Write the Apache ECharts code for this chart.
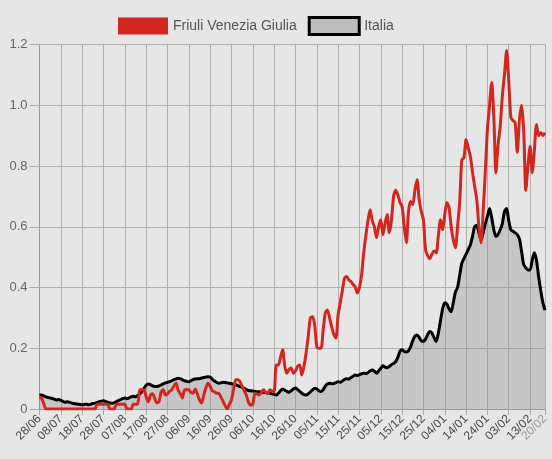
<!DOCTYPE html>
<html>
<head>
<meta charset="utf-8">
<script src="https://cdn.jsdelivr.net/npm/echarts@6/dist/echarts.min.js"></script>
<style>
html,body{margin:0;padding:0;background:#e6e6e6;}
#chart{width:552px;height:459px;}
</style>
</head>
<body>
<div id="chart"></div>
<script>
const startDate = [2020, 5, 28];
const dayCount = 238;
const tickLabels = ['28/06','08/07','18/07','28/07','07/08','17/08','27/08','06/09','16/09','26/09','06/10','16/10','26/10','05/11','15/11','25/11','05/12','15/12','25/12','04/01','14/01','24/01','03/02','13/02','20/02'];
const yTicks = [0, 0.2, 0.4, 0.6, 0.8, 1.0, 1.2];

const italia = [
0.045,0.046,0.043,0.040,0.038,0.036,0.035,0.032,0.030,0.031,
0.028,0.025,0.022,0.024,0.022,0.020,0.018,0.017,0.016,0.015,
0.014,0.015,0.016,0.014,0.016,0.018,0.019,0.021,0.024,0.026,
0.027,0.025,0.022,0.020,0.019,0.020,0.024,0.028,0.031,0.034,
0.036,0.034,0.037,0.040,0.042,0.040,0.044,0.050,0.057,0.068,
0.078,0.082,0.080,0.076,0.074,0.074,0.076,0.079,0.083,0.086,
0.088,0.090,0.093,0.097,0.099,0.101,0.100,0.096,0.093,0.091,
0.090,0.093,0.097,0.099,0.100,0.100,0.102,0.104,0.105,0.106,
0.105,0.098,0.092,0.088,0.085,0.086,0.088,0.087,0.086,0.085,
0.083,0.082,0.080,0.077,0.074,0.071,0.068,0.064,0.061,0.060,
0.059,0.058,0.057,0.057,0.056,0.055,0.054,0.053,0.052,0.050,
0.048,0.046,0.052,0.060,0.066,0.062,0.058,0.055,0.060,0.066,
0.069,0.064,0.058,0.052,0.047,0.046,0.050,0.056,0.063,0.068,
0.066,0.060,0.057,0.064,0.075,0.082,0.085,0.083,0.084,0.087,
0.090,0.088,0.092,0.097,0.100,0.098,0.103,0.108,0.112,0.110,
0.113,0.116,0.118,0.116,0.120,0.125,0.128,0.124,0.118,0.125,
0.134,0.142,0.138,0.136,0.140,0.146,0.150,0.156,0.170,0.190,
0.195,0.190,0.188,0.192,0.205,0.225,0.240,0.244,0.236,0.225,
0.222,0.230,0.245,0.255,0.250,0.235,0.222,0.250,0.290,0.330,
0.350,0.345,0.330,0.320,0.350,0.385,0.400,0.440,0.480,0.495,
0.510,0.525,0.540,0.568,0.600,0.605,0.580,0.557,0.580,0.610,
0.634,0.660,0.630,0.590,0.568,0.575,0.590,0.610,0.650,0.660,
0.620,0.590,0.585,0.580,0.574,0.560,0.520,0.475,0.465,0.458,
0.458,0.490,0.514,0.490,0.436,0.390,0.350,0.325
];

const friuli = [
0.040,0.035,0.018,0,0,0,0,0,0,0,
0,0,0,0,0,0,0,0,0,0,
0,0,0,0,0,0,0,0.016,0.016,0.016,
0.016,0.016,0.016,0,0,0,0.016,0.016,0.016,0.016,
0.016,0,0,0,0.016,0.016,0.016,0.063,0.063,0.063,
0.040,0.024,0.045,0.050,0.035,0.020,0.024,0.055,0.063,0.046,
0.050,0.058,0.063,0.075,0.085,0.062,0.050,0.036,0.063,0.063,
0.063,0.055,0.052,0.066,0.050,0.030,0.020,0.045,0.069,0.085,
0.075,0.060,0.057,0.052,0.052,0.040,0.026,0.012,0,0.015,
0.030,0.065,0.096,0.096,0.090,0.074,0.060,0.045,0.022,0.013,
0.015,0.052,0.050,0.046,0.055,0.063,0.055,0.052,0.063,0.060,
0.057,0.145,0.145,0.170,0.195,0.140,0.118,0.130,0.135,0.118,
0.125,0.140,0.145,0.112,0.140,0.185,0.240,0.300,0.304,0.277,
0.205,0.200,0.200,0.260,0.316,0.326,0.300,0.270,0.245,0.234,
0.310,0.350,0.390,0.430,0.436,0.425,0.420,0.410,0.403,0.382,
0.400,0.440,0.514,0.570,0.620,0.656,0.620,0.600,0.564,0.600,
0.623,0.574,0.610,0.640,0.580,0.620,0.700,0.720,0.705,0.680,
0.667,0.600,0.547,0.650,0.683,0.673,0.720,0.755,0.690,0.650,
0.623,0.524,0.505,0.495,0.510,0.520,0.514,0.570,0.623,0.590,
0.640,0.680,0.663,0.600,0.557,0.531,0.600,0.680,0.820,0.827,
0.887,0.860,0.832,0.780,0.733,0.690,0.600,0.547,0.650,0.780,
0.920,1.000,1.075,0.964,0.778,0.870,0.930,1.030,1.100,1.180,
1.080,0.960,0.950,0.943,0.845,0.950,1.000,0.920,0.720,0.800,
0.865,0.778,0.850,0.937,0.900,0.910,0.900,0.910
];

const dates = [];
for (let i = 0; i < dayCount; i++) {
  const d = new Date(Date.UTC(startDate[0], startDate[1], startDate[2] + i));
  const dd = String(d.getUTCDate()).padStart(2, '0');
  const mm = String(d.getUTCMonth() + 1).padStart(2, '0');
  dates.push(dd + '/' + mm);
}
const lastLabel = tickLabels[tickLabels.length - 1];
const isTick = (idx) => tickLabels.indexOf(dates[idx]) >= 0;
const isMainTick = (idx) => isTick(idx) && dates[idx] !== lastLabel;
const isLastTick = (idx) => dates[idx] === lastLabel;
const FONT = "'Liberation Sans', Arial, sans-serif";

const chart = echarts.init(document.getElementById('chart'), null, {renderer: 'canvas'});
chart.setOption({
  backgroundColor: '#e6e6e6',
  animation: false,
  textStyle: {fontFamily: FONT},
  legend: {
    left: 113, top: 11,
    itemWidth: 50, itemHeight: 17, itemGap: 11,
    textStyle: {fontSize: 14, color: '#555', fontFamily: FONT},
    data: [
      {name: 'Friuli Venezia Giulia', icon: 'rect', itemStyle: {color: '#d3261f', borderWidth: 0}},
      {name: 'Italia', icon: 'rect', itemStyle: {color: '#bdbdbd', borderColor: '#000', borderWidth: 3}}
    ]
  },
  grid: {left: 39.5, right: 7, top: 44.5, bottom: 50},
  xAxis: [
    {
      type: 'category',
      data: dates,
      boundaryGap: false,
      axisLine: {show: true, lineStyle: {color: '#999', width: 1}},
      axisTick: {show: true, length: 6, interval: (i) => isTick(i), lineStyle: {color: '#aaa'}},
      splitLine: {show: true, interval: (i) => isTick(i), lineStyle: {color: '#b0b0b0', width: 1}},
      axisLabel: {
        interval: (i) => isMainTick(i),
        rotate: 45,
        margin: 8,
        fontSize: 12,
        fontFamily: FONT,
        color: '#4a4a4a'
      }
    },
    {
      type: 'category',
      data: dates,
      position: 'bottom',
      boundaryGap: false,
      axisLine: {show: false},
      axisTick: {show: false},
      splitLine: {show: false},
      axisLabel: {
        interval: (i) => isLastTick(i),
        showMaxLabel: true,
        rotate: 45,
        margin: 8,
        fontSize: 12,
        fontFamily: FONT,
        color: '#9a9a9a'
      }
    }
  ],
  yAxis: {
    type: 'value',
    min: 0, max: 1.2, interval: 0.2,
    axisLine: {show: true, lineStyle: {color: '#999'}},
    axisTick: {show: true, length: 10, lineStyle: {color: '#aaa'}},
    splitLine: {show: true, lineStyle: {color: '#b0b0b0', width: 1}},
    axisLabel: {
      fontSize: 13, color: '#666', margin: 12, fontFamily: FONT,
      formatter: (v) => v === 0 ? '0' : v.toFixed(1)
    }
  },
  series: [
    {
      name: 'Italia', type: 'line', data: italia, xAxisIndex: 0,
      showSymbol: false, smooth: 0.25,
      lineStyle: {color: '#000', width: 3},
      itemStyle: {color: '#bdbdbd', borderColor: '#000', borderWidth: 3},
      areaStyle: {color: 'rgba(140,140,140,0.5)'},
      z: 2
    },
    {
      name: 'Friuli Venezia Giulia', type: 'line', data: friuli, xAxisIndex: 0,
      showSymbol: false, smooth: 0.25,
      lineStyle: {color: '#d3261f', width: 3},
      itemStyle: {color: '#d3261f'},
      z: 3
    }
  ]
});
</script>
</body>
</html>
